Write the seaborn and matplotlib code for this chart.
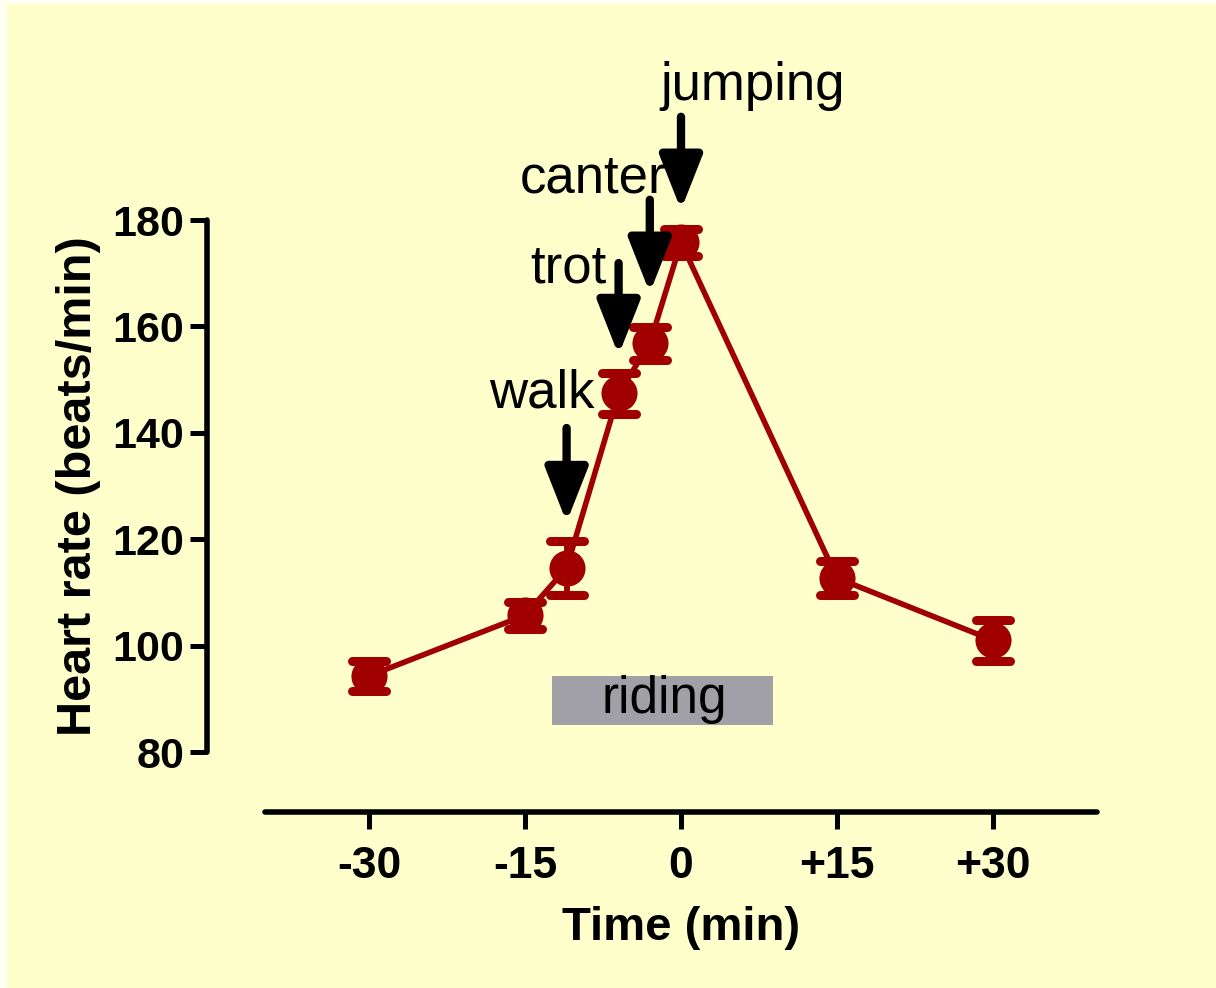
import matplotlib
matplotlib.use("Agg")
import matplotlib.pyplot as plt
import seaborn as sns
import numpy as np
import pandas as pd
from matplotlib.patches import Rectangle
from matplotlib.markers import MarkerStyle

# ---------------- data ----------------
time_min = [-30, -15, -11, -6, -3, 0, 15, 30]
heart_rate = [94.3, 105.7, 114.6, 147.4, 156.8, 175.8, 112.7, 101.0]
heart_sem = [2.8, 2.5, 5.0, 3.8, 3.1, 2.5, 3.2, 3.9]

x_ticks = [-30, -15, 0, 15, 30]
x_tick_labels = ["-30", "-15", "0", "+15", "+30"]
y_ticks = [80, 100, 120, 140, 160, 180]

event_labels = ["walk", "trot", "canter", "jumping"]
event_times = [-11, -6, -3, 0]

riding_label = "riding"
riding_start, riding_end = -12.4, 8.8

# ---------------- style ----------------
sns.set_theme(style="ticks")
plt.rcParams["font.family"] = ["Liberation Sans", "DejaVu Sans"]
plt.rcParams["text.color"] = "black"
plt.rcParams["axes.labelcolor"] = "black"

RED = "#A00000"
BG = "#FFFFCC"

df = pd.DataFrame({"time": time_min, "hr": heart_rate, "sem": heart_sem})

fig = plt.figure(figsize=(12.16, 9.88), dpi=100, facecolor="#FFFFF2")
fig.patches.append(Rectangle((7 / 1216, -0.05), 1.1, 0.05 + 984 / 988, transform=fig.transFigure,
                             facecolor=BG, edgecolor="none", zorder=-10))

ax = fig.add_axes([265 / 1216, 236 / 988, 832 / 1216, 532 / 988])
ax.set_facecolor("none")

# line + markers
sns.lineplot(data=df, x="time", y="hr", ax=ax, color=RED, lw=4.0,
             marker="o", markersize=26, markeredgewidth=0, zorder=3, clip_on=False)
eb = ax.errorbar(df["time"], df["hr"], yerr=df["sem"], fmt="none", ecolor=RED,
                 elinewidth=4.2, capsize=12, capthick=6.5, zorder=4, clip_on=False)
for cl in eb[1]:
    cl.set_marker(MarkerStyle("_", capstyle="round"))

# riding box
ax.add_patch(Rectangle((riding_start, 85.1), riding_end - riding_start, 9.2,
                       facecolor="#A0A0A6", edgecolor="none", zorder=1))
ax.text((riding_start + riding_end) / 2 + 0.2, 89.9, riding_label, ha="center", va="center",
        fontsize=37, color="black", zorder=2)

# arrows and event labels
arrow_tops = [140.9, 171.9, 183.8, 199.4]
arrow_tips = [123.2, 154.6, 166.3, 181.9]
label_x = [-13.4, -10.8, -8.5, 6.9]
label_y = [144.8, 168.3, 185.1, 202.6]
for lab, t, top, tip, lx, ly in zip(event_labels, event_times, arrow_tops, arrow_tips, label_x, label_y):
    ax.annotate("", xy=(t, tip), xytext=(t, top), annotation_clip=False,
                arrowprops=dict(arrowstyle="-|>,head_length=33,head_width=13",
                                mutation_scale=1, lw=6, color="black",
                                shrinkA=0, shrinkB=0, capstyle="round"), zorder=5)
    ax.text(lx, ly, lab, ha="center", va="baseline", fontsize=38, color="black",
            clip_on=False, zorder=5)

# axes
ax.set_xlim(-40, 40)
ax.set_ylim(80, 180)
ax.set_xticks(x_ticks)
ax.set_xticklabels(x_tick_labels)
ax.set_yticks(y_ticks)
for s in ["top", "right"]:
    ax.spines[s].set_visible(False)
ax.spines["left"].set_position(("outward", 42))
ax.spines["bottom"].set_position(("outward", 43))
for s in ["left", "bottom"]:
    ax.spines[s].set_linewidth(4.0)
    ax.spines[s].set_color("black")
    ax.spines[s].set_capstyle("round")
ax.tick_params(axis="both", width=3.6, length=12, color="black", labelcolor="black")
ax.tick_params(axis="x", pad=13, labelsize=32)
ax.tick_params(axis="y", pad=4, labelsize=31)
for lbl in ax.get_xticklabels() + ax.get_yticklabels():
    lbl.set_fontweight("bold")

ax.set_xlabel("Time (min)", fontsize=34, fontweight="bold", labelpad=13)
ax.set_ylabel("Heart rate (beats/min)", fontsize=35, fontweight="bold", labelpad=8)

fig.savefig("out.png", dpi=100, facecolor=fig.get_facecolor())
